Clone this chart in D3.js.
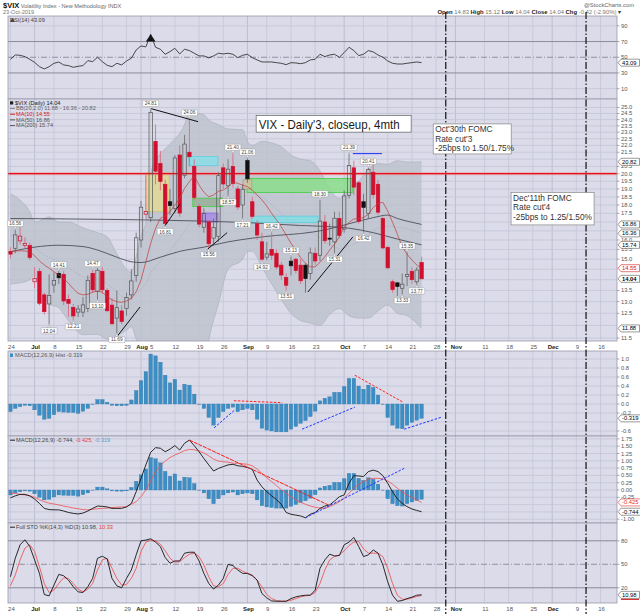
<!DOCTYPE html>
<html>
<head>
<meta charset="utf-8">
<style>
  body { margin:0; background:#fff; }
  #chart svg { display:block; }
  text { font-family: "Liberation Sans", Arial, sans-serif; }
</style>
</head>
<body>
<div id="chart"></div>
<script src="https://cdn.jsdelivr.net/npm/d3@7/dist/d3.min.js"></script>
<script>
// ---- values; x is the trading-day index (0 = 24 Jun 2019, 85 = 23 Oct 2019) ----
var prevClose = 15.40;
var openP = [15.40,15.56,15.95,15.70,15.70,13.90,14.40,13.30,12.90,13.75,
  14.30,14.25,13.10,12.75,12.55,12.55,12.70,14.30,13.45,14.40,
  13.50,12.85,12.30,12.60,12.70,13.30,14.20,16.00,17.45,17.25,
  22.30,20.70,19.30,18.20,17.80,21.30,19.90,21.50,20.50,17.90,
  16.70,17.00,16.10,16.20,20.40,19.20,20.50,19.00,18.00,20.90,
  18.20,16.90,15.90,15.10,15.50,15.30,14.70,14.10,14.90,15.00,
  14.70,14.70,14.30,15.30,15.20,17.00,16.10,15.90,17.20,16.60,
  18.60,20.40,19.40,18.20,17.50,20.10,19.30,17.20,15.60,13.90,
  13.85,13.60,14.15,14.40,13.90,14.83];
var highP = [15.62,16.56,16.70,16.15,15.85,14.60,14.55,13.40,14.25,14.35,
  14.41,14.40,13.30,12.90,12.85,13.20,14.20,14.47,14.55,14.60,
  13.60,13.15,13.50,12.85,13.40,14.50,16.40,18.25,19.90,24.81,
  23.60,21.60,19.60,19.00,21.30,22.00,22.80,24.06,21.00,18.05,
  17.80,17.10,17.20,20.10,20.70,21.00,21.40,19.20,19.30,21.06,
  18.50,17.10,16.40,15.90,16.42,15.50,14.85,14.30,15.13,15.05,
  15.00,14.80,15.60,15.60,18.30,17.40,16.90,17.60,17.60,18.90,
  21.39,20.90,19.50,18.70,20.41,20.70,19.60,17.30,15.70,14.00,
  13.90,14.30,15.35,14.60,14.60,15.12];
var lowP = [15.05,15.30,15.75,15.55,14.95,13.60,12.85,12.45,12.04,13.40,
  13.80,12.85,12.35,12.21,12.35,12.35,12.55,13.40,13.10,13.35,
  12.55,12.00,11.69,12.05,12.40,13.10,13.90,15.60,17.20,17.00,
  19.30,18.90,16.81,17.40,17.50,17.30,19.70,20.50,18.30,16.70,
  16.40,15.56,15.70,15.90,19.00,18.57,19.10,17.70,17.21,19.40,
  17.20,16.00,14.92,14.95,14.95,14.50,14.00,13.51,14.20,14.30,
  13.80,13.40,14.00,14.70,14.90,15.80,15.70,15.31,16.10,16.40,
  18.40,18.60,16.90,16.42,17.20,18.40,17.40,15.50,14.50,13.40,
  13.25,13.33,13.70,13.80,13.77,14.04];
var closeP = [15.26,16.28,16.21,15.82,15.08,14.06,12.93,12.57,13.28,13.96,
  14.09,13.03,12.93,12.39,12.68,12.86,13.97,13.53,14.45,13.53,
  12.61,12.07,12.74,12.16,13.19,13.94,16.12,17.87,17.61,24.59,
  20.17,19.49,16.91,17.97,21.09,17.52,22.10,21.18,18.47,16.88,
  17.50,15.80,16.68,19.87,19.32,20.31,19.35,17.88,18.98,19.66,
  17.33,16.27,15.00,15.27,15.20,14.61,14.22,13.74,14.67,14.44,
  13.95,14.05,15.32,14.91,17.05,15.96,16.07,17.22,16.24,18.56,
  20.56,19.12,17.04,17.86,20.28,18.64,17.57,15.58,14.57,13.54,
  13.68,13.79,14.25,14.00,14.46,14.04];

var ma10 = [15.38,15.42,15.43,15.42,15.38,15.17,14.91,14.71,14.55,14.38,
  14.22,14.06,13.83,13.57,13.37,13.30,13.33,13.42,13.48,13.42,
  13.22,13.08,13.00,12.97,13.03,13.15,13.44,13.98,14.87,15.82,
  16.64,17.21,17.36,17.60,18.00,18.41,19.04,19.47,19.87,19.25,
  18.79,18.51,18.62,18.85,18.93,19.14,19.43,19.36,19.25,19.14,
  18.93,18.62,18.31,17.94,17.50,17.12,16.73,16.27,15.82,15.47,
  15.07,14.79,14.62,14.62,14.84,15.12,15.47,15.77,16.18,16.73,
  16.98,17.17,17.21,17.25,17.45,17.84,18.10,18.17,17.64,16.98,
  16.31,15.64,15.25,14.96,14.71,14.55];
var ma50Idx = [0,5,10,15,18,22,25,27,31,35,40,45,50,55,60,65,70,75,78,80,82,85];
var ma50Val = [15.38,15.62,15.72,15.65,15.47,15.1,14.87,14.83,15.1,15.4,15.62,15.9,16.1,16.25,16.35,16.55,16.9,17.25,17.4,17.2,17.05,16.86];
var ma200Idx = [0,20,40,50,60,65,70,75,80,85];
var ma200Val = [17.2,17.15,17.05,16.95,16.8,16.75,16.65,16.4,16.05,15.74];

var bbIdx = [0,2,4,5,6,7,8,10,12,15,18,20,22,24,25,26,27,28,29,30,
  33,36,37,38,40,41,43,45,48,49,50,52,54,56,58,60,62,64,66,68,70,72,74,76,78,80,82,85];
var bbUpper = [18.7,18.3,17.6,17.0,17.05,17.2,17.3,17.0,17.0,16.67,16.4,16.17,15.27,14.49,14.35,15.15,16.25,17.0,20.0,20.85,
  22.1,23.6,24.7,24.55,24.4,23.96,23.6,23.25,23.2,22.3,22.0,22.3,22.2,21.9,21.3,21.0,20.9,20.2,19.0,18.4,
  18.95,19.5,20.3,20.7,20.65,20.9,20.8,20.82];
var bbLower = [13.8,13.85,14.0,14.2,13.73,13.2,12.9,12.74,12.2,11.63,11.65,11.45,11.59,11.81,11.95,11.47,10.9,10.6,8.6,8.4,
  8.8,9.4,9.1,9.6,10.3,11.4,12.9,14.5,15.0,15.4,15.4,14.6,13.8,13.1,12.5,12.2,12.1,12.0,12.45,12.7,
  12.4,12.3,12.3,12.6,12.85,12.5,12.4,11.88];
var bbMid = [16.25,16.09,15.81,15.6,15.39,15.22,15.09,14.88,14.58,14.15,14.04,13.81,13.43,13.15,13.15,13.31,13.57,13.79,14.32,14.62,
  15.42,16.48,16.87,17.07,17.48,17.67,18.25,18.87,19.10,18.86,18.71,18.46,18.03,17.49,16.93,16.63,16.47,16.11,15.73,15.56,
  15.67,15.91,16.29,16.66,16.75,16.69,16.62,16.35];

var rsi = [47.4,52.9,52.5,50.8,47.4,43.5,38.0,35.1,38.0,42.3,
  43.9,40.2,39.3,37.2,38.5,39.3,45.7,44.4,50.0,44.4,
  39.7,38.0,42.3,40.2,45.3,48.7,59.3,64.4,63.2,79.3,
  62.7,60.2,53.8,57.2,61.4,54.2,60.2,58.5,55.1,51.7,
  51.7,49.2,51.7,55.1,54.2,55.1,53.8,49.5,52.5,53.8,
  49.5,46.6,44.0,44.0,44.0,43.1,42.3,40.6,43.1,42.7,
  41.8,43.1,46.6,47.4,53.8,50.8,52.9,53.8,50.0,55.9,
  62.7,58.5,52.1,53.8,58.5,56.8,52.9,50.0,45.3,42.3,
  41.4,41.4,42.3,43.1,44.0,43.09];
var macdHist = [-0.17,-0.10,-0.06,-0.03,-0.04,-0.13,-0.25,-0.34,-0.32,-0.24,
  -0.17,-0.18,-0.19,-0.19,-0.21,-0.16,-0.10,-0.01,0.10,0.10,
  0.04,-0.03,-0.04,-0.04,-0.03,0.09,0.30,0.52,0.72,1.11,
  1.07,0.93,0.64,0.47,0.55,0.31,0.44,0.42,0.22,-0.01,
  -0.10,-0.30,-0.47,-0.30,-0.17,-0.10,-0.07,-0.17,-0.13,-0.10,
  -0.13,-0.34,-0.54,-0.58,-0.60,-0.62,-0.62,-0.62,-0.56,-0.50,
  -0.43,-0.37,-0.28,-0.16,0.07,0.13,0.16,0.26,0.26,0.39,
  0.57,0.57,0.40,0.33,0.42,0.37,0.20,-0.01,-0.30,-0.47,
  -0.54,-0.55,-0.47,-0.41,-0.36,-0.319];
var macdLine = [-0.27,-0.20,-0.15,-0.15,-0.20,-0.31,-0.46,-0.63,-0.67,-0.68,
  -0.68,-0.72,-0.77,-0.80,-0.82,-0.79,-0.72,-0.63,-0.55,-0.56,
  -0.58,-0.63,-0.63,-0.63,-0.58,-0.46,-0.06,0.40,0.86,1.29,
  1.45,1.43,1.31,1.40,1.52,1.37,1.60,1.71,1.52,1.31,
  1.08,0.86,0.65,0.74,0.80,0.86,0.88,0.83,0.81,0.77,
  0.71,0.34,0.11,-0.06,-0.20,-0.33,-0.49,-0.77,-0.83,-0.86,
  -0.89,-0.95,-0.83,-0.77,-0.63,-0.55,-0.51,-0.38,-0.23,-0.17,
  0.23,0.49,0.48,0.46,0.63,0.68,0.63,0.49,0.23,-0.06,
  -0.31,-0.46,-0.57,-0.65,-0.70,-0.744];
var macdSignal = [-0.11,-0.12,-0.15,-0.17,-0.20,-0.25,-0.33,-0.40,-0.45,-0.48,
  -0.51,-0.55,-0.58,-0.62,-0.64,-0.67,-0.68,-0.66,-0.64,-0.63,
  -0.62,-0.60,-0.59,-0.58,-0.57,-0.49,-0.40,-0.23,0.00,0.31,
  0.63,0.83,0.99,1.11,1.20,1.27,1.35,1.39,1.38,1.33,
  1.27,1.17,1.06,0.99,0.97,0.95,0.92,0.91,0.90,0.88,
  0.83,0.72,0.57,0.42,0.29,0.15,0.01,-0.11,-0.23,-0.34,
  -0.42,-0.49,-0.55,-0.59,-0.62,-0.63,-0.57,-0.49,-0.40,-0.29,
  -0.11,0.06,0.20,0.29,0.37,0.40,0.40,0.38,0.31,0.20,
  0.06,-0.06,-0.17,-0.26,-0.34,-0.425];
var stoK = [34.1,57.7,74.9,81.3,72.7,55.6,38.4,11.4,9.7,23.4,
  37.1,35.4,29.8,21.3,14.8,14.0,21.3,32.0,57.7,60.3,
  56.9,32.0,22.5,20.0,32.0,42.7,62.0,80.0,80.9,82.6,
  78.3,72.7,58.6,51.3,54.3,54.3,64.2,65.4,65.4,54.3,
  38.4,25.5,18.3,23.4,32.0,50.0,48.3,42.7,38.4,38.4,
  35.4,29.8,12.7,7.1,3.2,2.8,2.8,2.8,6.2,8.4,
  9.7,10.5,10.5,17.0,44.9,55.6,62.9,60.7,61.2,74.9,
  78.3,84.3,72.7,59.9,62.0,68.4,64.2,49.1,27.7,10.5,
  2.8,3.7,6.2,8.0,10.5,10.98];
var stoD = [22.5,36.3,55.6,70.6,74.9,66.3,47.0,25.5,14.0,17.0,
  25.5,32.8,32.0,25.5,18.3,14.8,18.3,25.5,42.7,55.6,
  57.7,44.9,32.0,23.4,24.3,32.0,44.9,66.3,78.3,80.9,
  80.0,75.7,67.2,57.7,52.6,53.4,58.6,62.9,64.2,59.9,
  49.1,34.1,22.5,21.3,25.5,37.1,44.9,44.9,41.4,38.4,
  36.3,29.8,21.3,11.4,6.2,3.7,2.8,2.8,4.1,6.2,
  8.4,9.7,10.5,14.0,25.5,42.7,55.6,59.9,62.0,67.2,
  74.0,78.3,79.2,69.7,64.2,64.2,64.2,59.9,44.9,25.5,
  10.5,5.4,5.4,7.1,8.8,10.33];

// axis ticks (trading-day index) and labels
var tickIdx = [0,5,9,14,19,24,27,29,34,39,44,49,53,58,63,69,73,78,83,88,92,98,103,108,112,117,122];
var tickLab = ["24","Jul","8","15","22","29","Aug","5","12","19","26","Sep","9","16","23","Oct","7","14","21","28","Nov","11","18","25","Dec","9","16"];
var monthLab = ["Jul","Aug","Sep","Oct","Nov","Dec"];
var fomcIdx = [90, 119];

// high / low callouts
var calloutIdx = [1,8,10,13,17,18,22,29,32,37,41,45,46,48,49,52,54,57,58,64,67,70,73,74,81,82,84];
var calloutType = ["h","l","h","l","h","l","l","h","l","h","l","l","h","l","h","l","h","l","h","h","l","h","l","h","l","h","l"];

// header / legend values
var quoteLab = ["Open","High","Low","Close","Chg"];
var quoteVal = ["14.83","15.12","14.04","14.04","-0.42 (-2.90%)"];
var bbNow = [11.88, 16.36, 20.82];
var maNow = [14.55, 16.86, 15.74];

// ---------------- layout ----------------
var W = 640, H = 614, L = 8, R = 617;
var bg = "#dbdbe9", gridC = "#c4c5d8", frameC = "#9a9aab", lab = "#555";
var redC = "#d20f2d", histC = "#3c8ec4";

var svg = d3.select("#chart").append("svg").attr("width", W).attr("height", H);
var x = d3.scaleLinear().domain([-0.5, 125.4]).range([L, R]);

var P = {
  rsi:   {t:16,  b:99},
  price: {t:99,  b:341},
  hist:  {t:351, b:436},
  macd:  {t:436, b:523},
  sto:   {t:523, b:603}
};
var yR = d3.scaleLinear().domain([0, 100]).range([96.5, 18]);
var yP = d3.scaleLog().domain([11.43, 25.6]).range([339.9, 100.4]);
var yH = d3.scaleLinear().domain([0, 1]).range([404, 359]);
var yM = d3.scaleLinear().domain([0, 1]).range([490, 460.8]);
var yS = d3.scaleLinear().domain([0, 100]).range([603.45, 525.15]);

function panel(key) {
  var p = P[key];
  svg.append("rect").attr("x", L).attr("y", p.t).attr("width", R - L).attr("height", p.b - p.t).attr("fill", bg);
  svg.append("clipPath").attr("id", "clip-" + key)
    .append("rect").attr("x", L).attr("y", p.t).attr("width", R - L).attr("height", p.b - p.t);
  var g = svg.append("g").attr("clip-path", "url(#clip-" + key + ")");
  g.selectAll(null).data(tickIdx).join("line")
    .attr("x1", d => x(d)).attr("x2", d => x(d)).attr("y1", p.t).attr("y2", p.b)
    .attr("stroke", (d, i) => monthLab.includes(tickLab[i]) ? "#b6b7cc" : gridC).attr("stroke-width", 0.8);
  return g;
}
function frame(key) {
  var p = P[key];
  svg.append("rect").attr("x", L).attr("y", p.t).attr("width", R - L).attr("height", p.b - p.t)
    .attr("fill", "none").attr("stroke", frameC).attr("stroke-width", 0.8);
}
function hLines(g, vals, y, style) {
  g.selectAll(null).data(vals).join("line")
    .attr("x1", L).attr("x2", R).attr("y1", d => y(d)).attr("y2", d => y(d))
    .attr("stroke", d => (style && style(d)) ? style(d).c : gridC)
    .attr("stroke-width", d => (style && style(d)) ? style(d).w : 0.8)
    .attr("stroke-dasharray", d => (style && style(d)) ? style(d).dash : null);
}
function axisLabels(vals, y, fmt, tags) {
  var keep = vals.filter(v => !tags.some(t => Math.abs(y(v) - t) < 4));
  var g = svg.append("g");
  g.selectAll("line").data(keep).join("line")
    .attr("x1", R).attr("x2", R + 2.5).attr("y1", d => y(d)).attr("y2", d => y(d))
    .attr("stroke", "#777").attr("stroke-width", 0.6);
  g.selectAll("text").data(keep).join("text")
    .attr("x", R + 4).attr("y", d => y(d) + 2).attr("font-size", 5.8).attr("fill", lab)
    .text(fmt);
}
function tag(yy, txt, col, bold) {
  var w = txt.length * 3.1 + 3;
  svg.append("path")
    .attr("d", "M" + (R + 1) + "," + yy + " L" + (R + 4) + "," + (yy - 3.5) + " H" + (R + 4 + w) + " V" + (yy + 3.5) + " H" + (R + 4) + " Z")
    .attr("fill", "#fff").attr("stroke", col === "#000" ? "#555" : col).attr("stroke-width", 0.6);
  svg.append("text").attr("x", R + 5).attr("y", yy + 2).attr("font-size", 5.8)
    .attr("fill", col).attr("font-weight", bold ? "bold" : null).text(txt);
}
function legend(yy, parts, dash) {
  if (dash) svg.append("line").attr("x1", 10).attr("x2", 15).attr("y1", yy - 1.8).attr("y2", yy - 1.8)
    .attr("stroke", dash).attr("stroke-width", 1);
  var t = svg.append("text").attr("x", dash ? 16 : 10).attr("y", yy).attr("font-size", 5.6);
  parts.forEach(p => t.append("tspan").attr("fill", p[1]).attr("font-weight", p[2] ? "bold" : null).text(p[0]));
}
function dateAxis(yy) {
  var g = svg.append("g");
  g.selectAll("text").data(tickIdx).join("text")
    .attr("x", d => x(d) + 1).attr("y", yy).attr("text-anchor", "middle").attr("font-size", 6)
    .attr("font-weight", (d, i) => monthLab.includes(tickLab[i]) ? "bold" : null)
    .attr("fill", (d, i) => monthLab.includes(tickLab[i]) ? "#222" : "#555")
    .text((d, i) => tickLab[i]);
}
var idx = closeP.map((d, i) => i);

// ---------------- header ----------------
var h1 = svg.append("text").attr("x", 3).attr("y", 7.5);
h1.append("tspan").attr("font-size", 7.5).attr("font-weight", "bold").attr("fill", "#111").text("$VIX");
h1.append("tspan").attr("font-size", 5.6).attr("fill", "#666").text(" Volatility Index - New Methodology INDX");
svg.append("text").attr("x", 3).attr("y", 14.2).attr("font-size", 5.6).attr("fill", "#777").text("23-Oct-2019");
svg.append("text").attr("x", 634).attr("y", 6.8).attr("text-anchor", "end").attr("font-size", 5.8).attr("fill", "#666").text("@StockCharts.com");
var q = svg.append("text").attr("x", 621).attr("y", 14.2).attr("text-anchor", "end").attr("font-size", 5.9);
quoteLab.forEach((l, i) => {
  q.append("tspan").attr("font-weight", "bold").attr("fill", "#222").text(l + " ");
  q.append("tspan").attr("fill", "#777").text(quoteVal[i] + (i < quoteLab.length - 1 ? " " : ""));
});
q.append("tspan").attr("fill", "#333").text(" \u25BE");

// ---------------- RSI ----------------
var gR = panel("rsi");
hLines(gR, [90, 70, 50, 30, 10], yR, d => d === 70 || d === 30 ? {c:"#8b8b9c", w:1} : d === 50 ? {c:"#7e7e90", w:0.8, dash:"6,2,1,2"} : null);
gR.append("path").datum(rsi)
  .attr("d", d3.area().x((d, i) => x(i)).y0(yR(70)).y1(d => yR(Math.max(d, 70))))
  .attr("fill", "#111");
gR.append("path").datum(rsi)
  .attr("d", d3.line().x((d, i) => x(i)).y(d => yR(d)))
  .attr("fill", "none").attr("stroke", "#222").attr("stroke-width", 0.8);
frame("rsi");
axisLabels([90, 70, 50, 30, 10], yR, d => d, [yR(rsi[85])]);
tag(yR(rsi[85]), rsi[85].toFixed(2), "#000", false);
svg.append("path").attr("d", "M10,22 L12.5,18 L15,22 Z").attr("fill", "#444");
legend(22.2, [["RSI(14) " + rsi[85].toFixed(2), "#444"]], null);

// ---------------- price ----------------
var gP = panel("price");
var priceTicks = d3.range(23, 51).map(k => k / 2);   // 11.5 .. 25.0
hLines(gP, priceTicks, yP, null);

// Bollinger band
gP.append("path").datum(bbIdx)
  .attr("d", d3.area().curve(d3.curveMonotoneX).x(d => x(d)).y0((d, i) => yP(bbLower[i])).y1((d, i) => yP(bbUpper[i])))
  .attr("fill", "#bcc2cd").attr("fill-opacity", 0.82);
[bbUpper, bbLower].forEach(arr => gP.append("path").datum(bbIdx)
  .attr("d", d3.line().curve(d3.curveMonotoneX).x(d => x(d)).y((d, i) => yP(arr[i])))
  .attr("fill", "none").attr("stroke", "#a7acb9").attr("stroke-width", 0.6));
gP.append("path").datum(bbIdx)
  .attr("d", d3.line().curve(d3.curveMonotoneX).x(d => x(d)).y((d, i) => yP(bbMid[i])))
  .attr("fill", "none").attr("stroke", "#9b9eab").attr("stroke-width", 0.6).attr("stroke-dasharray", "1,1.5");

// highlight boxes (trading-day index range, price range)
var boxes = [
  {i0:28.0, i1:32.8, p0:17.6,  p1:20.05, fill:"#e6dc8e", stroke:"#cfc27a", op:0.75},
  {i0:36.9, i1:42.9, p0:20.55, p1:21.19, fill:"#86e0ea", stroke:"#5fd0dc", op:0.8},
  {i0:37.7, i1:43.9, p0:17.9,  p1:18.42, fill:"#9aae9a", stroke:"#3ed23e", op:0.85},
  {i0:39.6, i1:42.9, p0:16.99, p1:17.52, fill:"#a98ae6", stroke:"#8a6ad8", op:0.85},
  {i0:48.9, i1:70.8, p0:18.78, p1:19.68, fill:"#86df86", stroke:"#3fd03f", op:0.8},
  {i0:48.1, i1:49.9, p0:19.0,  p1:19.6,  fill:"#cfc0a4", stroke:"#b0a080", op:0.9},
  {i0:49.9, i1:63.6, p0:16.96, p1:17.34, fill:"#84dde6", stroke:"#5ccfdc", op:0.85}
];
gP.selectAll("rect.box").data(boxes).join("rect").attr("class", "box")
  .attr("x", d => x(d.i0)).attr("width", d => x(d.i1) - x(d.i0))
  .attr("y", d => yP(d.p1)).attr("height", d => yP(d.p0) - yP(d.p1))
  .attr("fill", d => d.fill).attr("fill-opacity", d => d.op)
  .attr("stroke", d => d.stroke).attr("stroke-width", 0.8);

// horizontal 20.0 level
gP.append("line").attr("x1", L).attr("x2", R).attr("y1", yP(20)).attr("y2", yP(20))
  .attr("stroke", "#f08a8a").attr("stroke-width", 3).attr("stroke-opacity", 0.55);
gP.append("line").attr("x1", L).attr("x2", R).attr("y1", yP(20)).attr("y2", yP(20))
  .attr("stroke", "#e3101c").attr("stroke-width", 1.2);

// moving averages
gP.append("path").datum(ma200Idx)
  .attr("d", d3.line().curve(d3.curveMonotoneX).x(d => x(d)).y((d, i) => yP(ma200Val[i])))
  .attr("fill", "none").attr("stroke", "#4d4f5a").attr("stroke-width", 0.9);
gP.append("path").datum(ma50Idx)
  .attr("d", d3.line().curve(d3.curveMonotoneX).x(d => x(d)).y((d, i) => yP(ma50Val[i])))
  .attr("fill", "none").attr("stroke", "#4d4f5a").attr("stroke-width", 0.9);

// candles
var candles = idx.map(i => ({i: i, o: openP[i], h: highP[i], l: lowP[i], c: closeP[i], pc: i ? closeP[i - 1] : prevClose}));
var cw = 3.4;
var cg = gP.append("g");
cg.selectAll("line.hi").data(candles).join("line")
  .attr("x1", d => x(d.i)).attr("x2", d => x(d.i))
  .attr("y1", d => yP(d.h)).attr("y2", d => yP(Math.max(d.o, d.c)))
  .attr("stroke", d => d.c < d.pc ? "#e0607a" : "#666").attr("stroke-width", 0.8);
cg.selectAll("line.lo").data(candles).join("line")
  .attr("x1", d => x(d.i)).attr("x2", d => x(d.i))
  .attr("y1", d => yP(Math.min(d.o, d.c))).attr("y2", d => yP(d.l))
  .attr("stroke", d => d.c < d.pc ? "#e0607a" : "#666").attr("stroke-width", 0.8);
cg.selectAll("rect").data(candles).join("rect")
  .attr("x", d => x(d.i) - cw / 2).attr("width", cw)
  .attr("y", d => yP(Math.max(d.o, d.c)))
  .attr("height", d => Math.max(1, yP(Math.min(d.o, d.c)) - yP(Math.max(d.o, d.c))))
  .attr("fill", d => d.c > d.o ? "none" : (d.c < d.pc ? redC : "#111"))
  .attr("stroke", d => d.c < d.pc ? redC : (d.c > d.o ? "#555" : "#111"))
  .attr("stroke-width", 0.7);

gP.append("path").datum(ma10)
  .attr("d", d3.line().x((d, i) => x(i)).y(d => yP(d)))
  .attr("fill", "none").attr("stroke", "#c23a3a").attr("stroke-width", 0.7);

// trend lines drawn on the chart
var trend = [
  {i0:28.9, p0:24.92, i1:38.8, p1:23.83, c:"#111"},
  {i0:32.0, p0:16.8,  i1:35.1, p1:18.08, c:"#111"},
  {i0:21.8, p0:11.5,  i1:26.8, p1:12.77, c:"#111"},
  {i0:40.8, p0:15.52, i1:44.8, p1:16.4,  c:"#111"},
  {i0:61.5, p0:13.43, i1:70.8, p1:16.17, c:"#111"},
  {i0:70.8, p0:21.4,  i1:76.8, p1:21.4,  c:"#1a2cff"}
];
gP.selectAll("line.trend").data(trend).join("line")
  .attr("x1", d => x(d.i0)).attr("y1", d => yP(d.p0)).attr("x2", d => x(d.i1)).attr("y2", d => yP(d.p1))
  .attr("stroke", d => d.c).attr("stroke-width", 1);
frame("price");

// callouts
var co = calloutIdx.map((i, k) => ({i: i, t: calloutType[k], v: calloutType[k] === "h" ? highP[i] : lowP[i]}));
var cog = svg.append("g").selectAll("g").data(co).join("g")
  .attr("transform", d => "translate(" + x(d.i) + "," + yP(d.v) + ")");
cog.append("path").attr("d", d => d.t === "h" ? "M-1.6,-3.2 L1.6,-3.2 L0,-0.6 Z" : "M-1.6,3.2 L1.6,3.2 L0,0.6 Z")
  .attr("fill", "#fff").attr("stroke", "#888").attr("stroke-width", 0.4);
cog.append("rect").attr("x", -8).attr("width", 16).attr("height", 6.2)
  .attr("y", d => d.t === "h" ? -9.4 : 3.2).attr("rx", 0.8)
  .attr("fill", "#fff").attr("stroke", "#8a8a8a").attr("stroke-width", 0.4);
cog.append("text").attr("text-anchor", "middle").attr("font-size", 4.8).attr("fill", "#444")
  .attr("y", d => d.t === "h" ? -4.4 : 8.2).text(d => d.v.toFixed(2));

// price axis
var pTags = [bbNow[2], maNow[1], bbNow[1], maNow[2], maNow[0], closeP[85], bbNow[0]].map(v => yP(v));
axisLabels(priceTicks, yP, d => d.toFixed(1), pTags);
tag(yP(bbNow[2]), bbNow[2].toFixed(2), "#000", false);
tag(yP(maNow[1]), maNow[1].toFixed(2), "#000", false);
tag(yP(bbNow[1]), bbNow[1].toFixed(2), "#000", false);
tag(yP(maNow[2]), maNow[2].toFixed(2), "#000", false);
tag(yP(maNow[0]), maNow[0].toFixed(2), "#d42020", false);
tag(yP(closeP[85]), closeP[85].toFixed(2), "#000", true);
tag(yP(bbNow[0]), bbNow[0].toFixed(2), "#000", false);

svg.append("rect").attr("x", 10).attr("y", 101.3).attr("width", 3.2).attr("height", 3.2).attr("fill", "#222");
svg.append("text").attr("x", 15).attr("y", 104.6).attr("font-size", 5.6).attr("fill", "#222").text("$VIX (Daily) " + closeP[85].toFixed(2));
legend(110.3, [["BB(20,2.0) " + bbNow[0].toFixed(2) + " - " + bbNow[1].toFixed(2) + " - " + bbNow[2].toFixed(2), "#666"]], "#888");
legend(116, [["MA(10) " + maNow[0].toFixed(2), "#d42020"]], "#d42020");
legend(121.7, [["MA(50) " + maNow[1].toFixed(2), "#555"]], "#555");
legend(127.4, [["MA(200) " + maNow[2].toFixed(2), "#555"]], "#555");

dateAxis(348.6);

// ---------------- MACD histogram ----------------
var gH = panel("hist");
var hTicks = d3.range(-3, 6).map(k => k / 5);
hLines(gH, hTicks, yH, null);
var bw = 3.6;
gH.selectAll("rect").data(macdHist).join("rect")
  .attr("x", (d, i) => x(i) - bw / 2).attr("width", bw)
  .attr("y", d => Math.min(yH(0), yH(d))).attr("height", d => Math.abs(yH(d) - yH(0)))
  .attr("fill", histC).attr("stroke", "#2f77a8").attr("stroke-width", 0.3);
var hLinesAnn = [
  {i0:46.2, v0:0.073, i1:56.2, v1:0.029, c:"#ff2222"},
  {i0:71.2, v0:0.64,  i1:81.0, v1:0.05,  c:"#ff2222"},
  {i0:42.1, v0:-0.53, i1:46.4, v1:-0.13, c:"#2233ff"},
  {i0:60.3, v0:-0.56, i1:71.2, v1:-0.07, c:"#2233ff"},
  {i0:81.4, v0:-0.56, i1:89.2, v1:-0.29, c:"#2233ff"}
];
gH.selectAll("line.ann").data(hLinesAnn).join("line")
  .attr("x1", d => x(d.i0)).attr("y1", d => yH(d.v0)).attr("x2", d => x(d.i1)).attr("y2", d => yH(d.v1))
  .attr("stroke", d => d.c).attr("stroke-width", 1).attr("stroke-dasharray", "2.5,1.5");
frame("hist");
axisLabels(hTicks, yH, d => d.toFixed(1), [yH(macdHist[85])]);
tag(yH(macdHist[85]), macdHist[85].toFixed(3), "#000", false);
svg.append("rect").attr("x", 10).attr("y", 353.5).attr("width", 3).attr("height", 3.5).attr("fill", histC);
svg.append("text").attr("x", 15).attr("y", 357.2).attr("font-size", 5.6).attr("fill", "#555")
  .text("MACD(12,26,9) Hist " + macdHist[85].toFixed(3));

// ---------------- MACD ----------------
var gM = panel("macd");
var mTicks = d3.range(-4, 8).map(k => k / 4);
hLines(gM, mTicks, yM, null);
gM.selectAll("rect").data(macdHist).join("rect")
  .attr("x", (d, i) => x(i) - bw / 2).attr("width", bw)
  .attr("y", d => Math.min(yM(0), yM(d))).attr("height", d => Math.abs(yM(d) - yM(0)))
  .attr("fill", histC).attr("stroke", "#2f77a8").attr("stroke-width", 0.3);
gM.append("path").datum(macdSignal)
  .attr("d", d3.line().x((d, i) => x(i)).y(d => yM(d)))
  .attr("fill", "none").attr("stroke", "#f05050").attr("stroke-width", 0.8);
gM.append("path").datum(macdLine)
  .attr("d", d3.line().x((d, i) => x(i)).y(d => yM(d)))
  .attr("fill", "none").attr("stroke", "#151515").attr("stroke-width", 0.9);
var mLinesAnn = [
  {i0:37.0, v0:1.71,  i1:65.7, v1:-0.51, c:"#ff1a1a", dash:"4,1"},
  {i0:61.0, v0:-0.95, i1:81.4, v1:0.74,  c:"#2233ff", dash:"2.5,1.5"}
];
gM.selectAll("line.ann").data(mLinesAnn).join("line")
  .attr("x1", d => x(d.i0)).attr("y1", d => yM(d.v0)).attr("x2", d => x(d.i1)).attr("y2", d => yM(d.v1))
  .attr("stroke", d => d.c).attr("stroke-width", 1).attr("stroke-dasharray", d => d.dash);
frame("macd");
axisLabels(mTicks, yM, d => d.toFixed(2), [yM(macdSignal[85]), yM(macdLine[85])]);
tag(yM(macdSignal[85]), macdSignal[85].toFixed(3), "#e03030", false);
tag(yM(macdLine[85]), macdLine[85].toFixed(3), "#000", false);
legend(442, [["MACD(12,26,9) " + macdLine[85].toFixed(3) + ", ", "#444"], [macdSignal[85].toFixed(3) + ", ", "#e04040"], [macdHist[85].toFixed(3), "#5a9ccc"]], "#222");

// ---------------- Full STO ----------------
var gS = panel("sto");
hLines(gS, [80, 50, 20], yS, d => d === 50 ? {c:"#7e7e90", w:0.8, dash:"6,2,1,2"} : {c:"#8b8b9c", w:1});
gS.append("path").datum(stoD)
  .attr("d", d3.line().x((d, i) => x(i)).y(d => yS(d)))
  .attr("fill", "none").attr("stroke", "#f04848").attr("stroke-width", 0.8);
gS.append("path").datum(stoK)
  .attr("d", d3.line().x((d, i) => x(i)).y(d => yS(d)))
  .attr("fill", "none").attr("stroke", "#151515").attr("stroke-width", 0.9);
frame("sto");
axisLabels([80, 50, 20], yS, d => d, [yS(stoK[85])]);
tag(yS(stoK[85]), stoK[85].toFixed(2), "#000", false);
svg.append("line").attr("x1", R + 4).attr("x2", R + 22).attr("y1", yS(stoK[85]) + 4.5).attr("y2", yS(stoK[85]) + 4.5)
  .attr("stroke", "#d01010").attr("stroke-width", 1);
legend(529, [["Full STO %K(14,3) %D(3) " + stoK[85].toFixed(2) + ", ", "#444"], [stoD[85].toFixed(2), "#e04040"]], "#222");

dateAxis(610.5);

// ---------------- FOMC date markers (under the note boxes) ----------------
svg.selectAll("line.fomc").data(fomcIdx).join("line").attr("class", "fomc")
  .attr("x1", d => x(d)).attr("x2", d => x(d)).attr("y1", 12).attr("y2", 614)
  .attr("stroke", "#111").attr("stroke-width", 1.2).attr("stroke-dasharray", "7,2,1.5,2");

// notes
var noteMain = {i: 50.8, p: 24.32, w: 155, h: 16.5, text: "VIX - Daily'3, closeup, 4mth"};
var notes = [
  {i: 87.4,  p: 23.65, w: 78, h: 30, lines: ["Oct'30th FOMC", "Rate cut'3", "-25bps to 1.50/1.75%"]},
  {i: 103.5, p: 18.78, w: 83, h: 32.5, lines: ["Dec'11th FOMC", "Rate cut'4", "-25bps to 1.25/1.50%"]}
];
svg.append("rect").attr("x", x(noteMain.i)).attr("y", yP(noteMain.p)).attr("width", noteMain.w).attr("height", noteMain.h)
  .attr("fill", "#fff").attr("stroke", "#666").attr("stroke-width", 0.7);
svg.append("text").attr("x", x(noteMain.i) + 2.5).attr("y", yP(noteMain.p) + 13).attr("font-size", 12.8)
  .attr("fill", "#1a1a1a").attr("textLength", 141).attr("lengthAdjust", "spacingAndGlyphs").text(noteMain.text);
var ng = svg.selectAll("g.note").data(notes).join("g").attr("class", "note")
  .attr("transform", d => "translate(" + x(d.i) + "," + yP(d.p) + ")");
ng.append("rect").attr("width", d => d.w).attr("height", d => d.h)
  .attr("fill", "#fff").attr("stroke", "#777").attr("stroke-width", 0.6);
ng.selectAll("text").data(d => d.lines).join("text")
  .attr("x", 2).attr("y", (d, k) => 8.2 + k * 9.6).attr("font-size", 8.3).attr("fill", "#333").text(d => d);
</script>
</body>
</html>
